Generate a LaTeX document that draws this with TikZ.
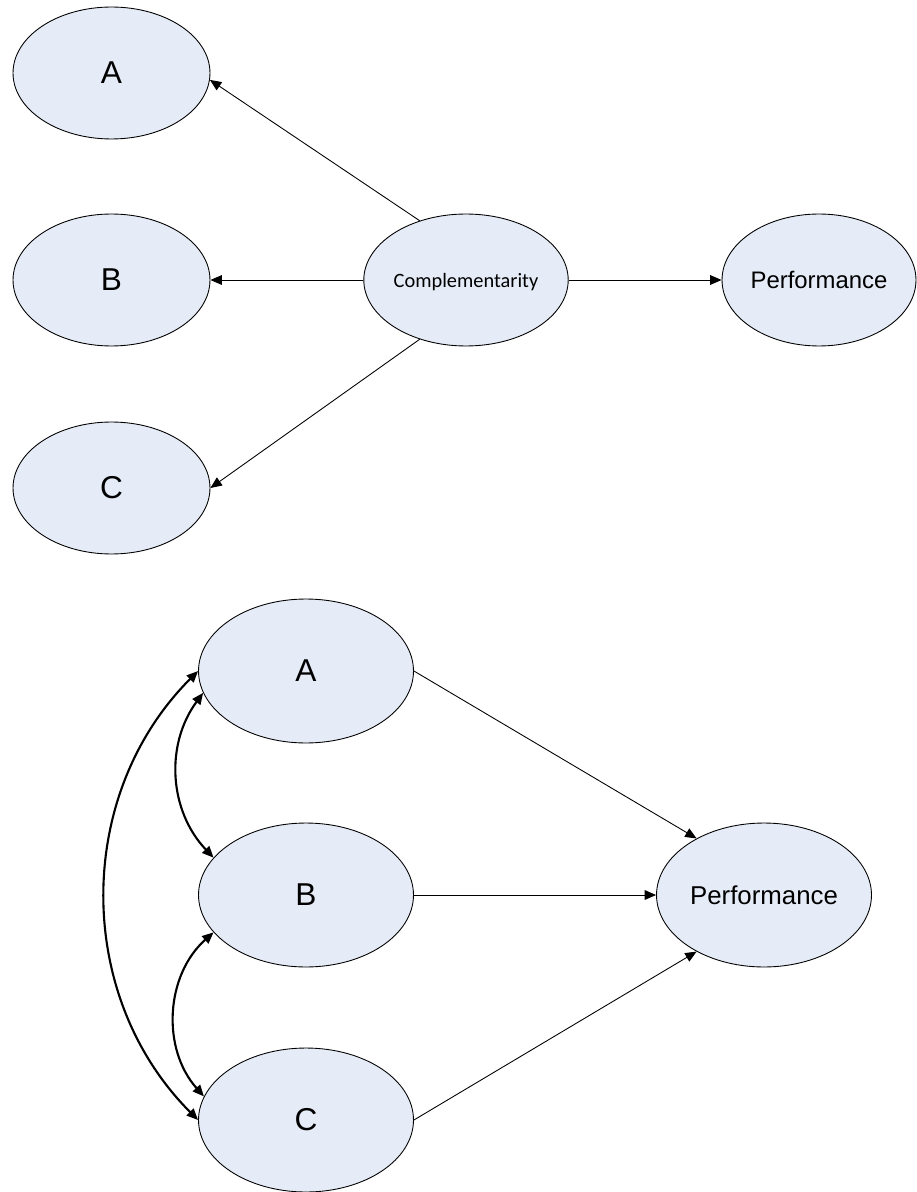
\documentclass[tikz,border=0pt]{standalone}
\usepackage{fontspec}
\setmainfont{Liberation Sans}
\newfontfamily\calibrifont{Carlito}
\usepackage{tikz}
\usetikzlibrary{shapes.geometric}
\usetikzlibrary{arrows.meta}
\definecolor{ovalfill}{RGB}{230,236,247}

\begin{document}
\begin{tikzpicture}[x=0.02cm, y=-0.02cm,
		oval/.style={ellipse, draw=black, line width=.5pt, fill=ovalfill, inner sep=0pt,
			minimum width=3.94cm, minimum height=2.64cm},
		bigoval/.style={oval, minimum width=4.3cm, minimum height=2.88cm},
		letter/.style={font=\fontsize{18}{20}\selectfont},
		perf/.style={font=\fontsize{13.6}{15}\selectfont},
		link/.style={line width=.5pt, -{Triangle[length=6.5pt, width=5.5pt]}},
		corr/.style={line width=1.2pt, {Triangle[length=6.5pt, width=5.5pt]}-{Triangle[length=6.5pt, width=5.5pt]}}]
			\useasboundingbox (0,0) rectangle (916,1192);
			\node[oval, letter] (a1) at (111.5, 73) {A};
			\node[oval, letter] (b1) at (111.5,280) {B};
			\node[oval, letter] (c1) at (111.5,488) {C};
			\node[oval, font=\calibrifont\fontsize{11.6}{13}\selectfont, text height=11.5pt, text depth=2.4pt] (comp) at (466,280) {Complementarity};
			\node[oval, perf, minimum width=3.88cm] (perf1) at (819,280) {Performance};
			\draw[link] (comp.128) -- (a1.-4);
			\draw[link] (comp.west) -- (b1.east);
			\draw[link] (comp.232) -- (c1.east);
			\draw[link] (comp.east) -- (perf1.west);
			\node[bigoval, letter] (a2) at (306, 671) {A};
			\node[bigoval, letter] (b2) at (306, 895) {B};
			\node[bigoval, letter] (c2) at (306,1120) {C};
			\node[bigoval, perf, font=\fontsize{14.7}{16}\selectfont] (perf2) at (764,895) {Performance};
			\draw[link] (a2.east) -- (perf2.140);
			\draw[link] (b2.east) -- (perf2.west);
			\draw[link] (c2.east) -- (perf2.220);
			\draw[corr] (a2.west) to[bend right=45] (c2.west);
			\draw[corr] (a2.192) to[bend right=40] (b2.158);
			\draw[corr] (b2.202) to[bend right=45] (c2.167);
		\end{tikzpicture}
\end{document}
